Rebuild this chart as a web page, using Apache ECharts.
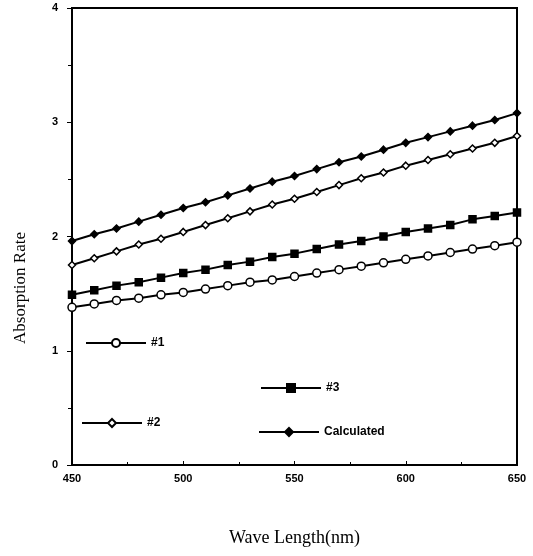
<!DOCTYPE html>
<html>
<head>
<meta charset="utf-8">
<script src="https://cdn.jsdelivr.net/npm/echarts@6/dist/echarts.min.js"></script>
<style>
  html, body { margin: 0; padding: 0; background: #fff; }
  #chart { width: 533px; height: 556px; }
</style>
</head>
<body>
<div id="chart"></div>
<script>
  // wavelength (nm)
  var waveLength = [450, 460, 470, 480, 490, 500, 510, 520, 530, 540, 550,
                    560, 570, 580, 590, 600, 610, 620, 630, 640, 650]
  var sample1 = [1.38, 1.41, 1.44, 1.46, 1.49, 1.51, 1.54, 1.57, 1.60, 1.62, 1.65,
                 1.68, 1.71, 1.74, 1.77, 1.80, 1.83, 1.86, 1.89, 1.92, 1.95]
  var sample2 = [1.75, 1.81, 1.87, 1.93, 1.98, 2.04, 2.10, 2.16, 2.22, 2.28, 2.33,
                 2.39, 2.45, 2.51, 2.56, 2.62, 2.67, 2.72, 2.77, 2.82, 2.88]
  var sample3 = [1.49, 1.53, 1.57, 1.60, 1.64, 1.68, 1.71, 1.75, 1.78, 1.82, 1.85,
                 1.89, 1.93, 1.96, 2.00, 2.04, 2.07, 2.10, 2.15, 2.18, 2.21]
  var calculated = [1.96, 2.02, 2.07, 2.13, 2.19, 2.25, 2.30, 2.36, 2.42, 2.48, 2.53,
                    2.59, 2.65, 2.70, 2.76, 2.82, 2.87, 2.92, 2.97, 3.02, 3.08]
  var seriesNames = ['#1', '#2', '#3', 'Calculated']

  function pairs(ys) {
    return ys.map(function (y, i) { return [waveLength[i], y] })
  }

  var chart = echarts.init(document.getElementById('chart'))

  var legendText = { color: '#000', fontFamily: 'Liberation Sans', fontWeight: 'bold', fontSize: 12 }
  function legendAt(name, left, top) {
    return {
      data: [name], left: left, top: top, orient: 'horizontal',
      itemWidth: 60, itemHeight: 10, itemGap: 16,
      selectedMode: false, textStyle: legendText
    }
  }

  function lineSeries(name, data, symbol, size, fill) {
    return {
      name: name, type: 'line', data: pairs(data),
      symbol: symbol, symbolSize: size, showSymbol: true,
      lineStyle: { color: '#000', width: 2 },
      itemStyle: { color: fill, borderColor: '#000', borderWidth: 1.5 },
      animation: false
    }
  }

  chart.setOption({
    backgroundColor: '#fff',
    grid: { left: 72, right: 16, top: 8, bottom: 91, show: true, borderColor: '#000', borderWidth: 2 },
    legend: [
      legendAt(seriesNames[0], 80, 332),
      legendAt(seriesNames[1], 76, 412),
      legendAt(seriesNames[2], 255, 377),
      legendAt(seriesNames[3], 253, 421)
    ],
    xAxis: {
      type: 'value', min: 450, max: 650, interval: 50,
      axisLine: { lineStyle: { color: '#000', width: 2 } },
      axisTick: { inside: true, length: 4, lineStyle: { color: '#000' } },
      minorTick: { show: true, splitNumber: 2, length: 3, lineStyle: { color: '#000' } },
      splitLine: { show: false },
      axisLabel: { color: '#000', fontFamily: 'Liberation Sans', fontWeight: 'bold', fontSize: 11, margin: 8 },
      name: 'Wave Length(nm)', nameLocation: 'middle', nameGap: 64,
      nameTextStyle: { color: '#000', fontFamily: 'Liberation Serif', fontSize: 18 }
    },
    yAxis: {
      type: 'value', min: 0, max: 4, interval: 1,
      axisLine: { lineStyle: { color: '#000', width: 2 } },
      axisTick: { inside: false, length: 5, lineStyle: { color: '#000' } },
      minorTick: { show: true, splitNumber: 2, length: 4, lineStyle: { color: '#000' } },
      splitLine: { show: false },
      axisLabel: { color: '#000', fontFamily: 'Liberation Sans', fontWeight: 'bold', fontSize: 11, margin: 14 }
    },
    graphic: [{
      type: 'text', left: 12, top: 232, rotation: Math.PI / 2,
      style: { text: 'Absorption Rate', fill: '#000', font: '17px "Liberation Serif"' }
    }],
    series: [
      lineSeries(seriesNames[0], sample1, 'circle', 8, '#fff'),
      lineSeries(seriesNames[1], sample2, 'diamond', 7, '#fff'),
      lineSeries(seriesNames[2], sample3, 'rect', 7, '#000'),
      lineSeries(seriesNames[3], calculated, 'diamond', 7, '#000')
    ]
  })
</script>
</body>
</html>
